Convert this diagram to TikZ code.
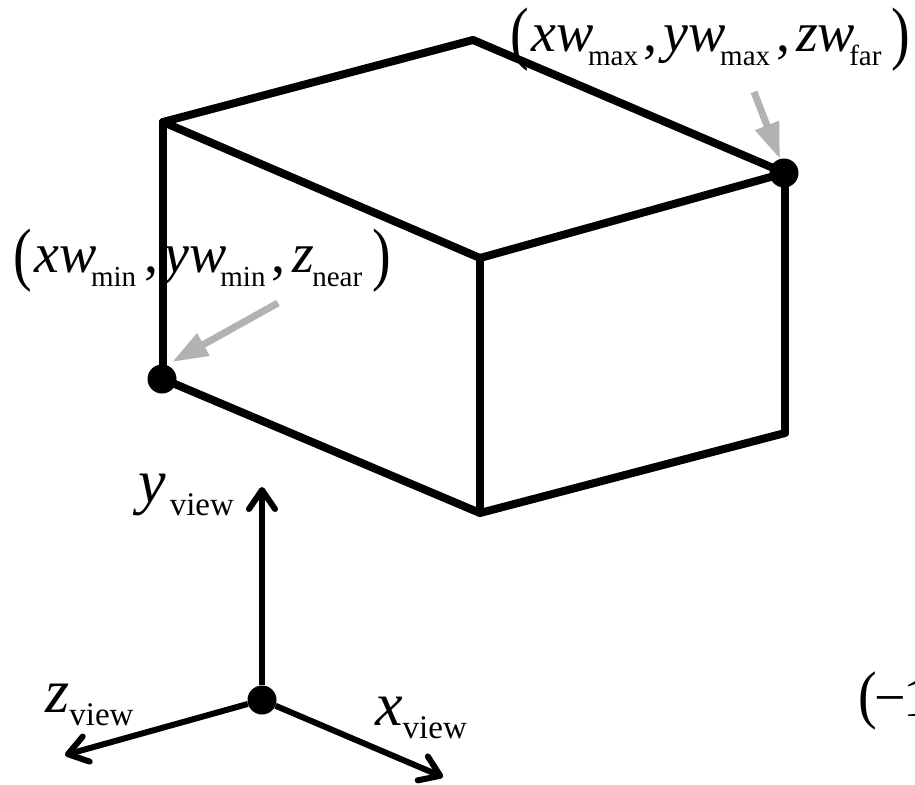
\documentclass[tikz,border=0pt]{standalone}
\usepackage{fontspec}
\setmainfont{Liberation Serif}
\usetikzlibrary{arrows.meta}
\definecolor{gry}{HTML}{B2B2B2}
\newcommand{\sublab}[3][-6pt]{\textit{#2}\kern#1\raisebox{-14pt}{\fontsize{29}{30}\selectfont #3}}
\newcommand{\viewlab}[2][0pt]{\textit{#2}\kern#1\raisebox{-13pt}{\fontsize{33}{36}\selectfont view}}
\newcommand{\lpar}{\raisebox{-5pt}{\scalebox{1}[1.25]{(}}}
\newcommand{\rpar}{\raisebox{-5pt}{\scalebox{1}[1.25]{)}}}
\tikzset{
  lab/.style={anchor=base west,inner sep=0pt,font=\fontsize{56}{60}\selectfont},
  vlab/.style={anchor=base west,inner sep=0pt,font=\fontsize{62}{66}\selectfont},
  edge/.style={draw=black,line width=8pt,line cap=round},
  axis/.style={draw=black,line width=6pt,-{Straight Barb[length=19pt,width=26pt,line width=6pt,round]}},
  pointer/.style={draw=gry,line width=7pt,-{Triangle[length=36pt,width=24pt]}},
  dot/.style={circle,fill=black,inner sep=0pt,minimum size=29pt},
}
\begin{document}
\begin{tikzpicture}[x=1pt,y=-1pt]
\useasboundingbox (0,0) rectangle (915,784);
% corners of the box
\coordinate (bl) at (163,122);
\coordinate (bt) at (473,40);
\coordinate (fl) at (163,379);
\coordinate (ft) at (480,258);
\coordinate (fb) at (480,513);
\coordinate (rt) at (785,173);
\coordinate (rb) at (785,433);
\node[lab] (minlab) at (13,272) {\lpar\kern3pt\sublab{xw}{min}\kern8pt,\kern6pt\sublab{yw}{min}\kern6pt,\kern7pt\sublab[-2pt]{z}{near}\kern10pt\rpar};
\node[lab] (maxlab) at (510,52) {\lpar\kern3pt\sublab{xw}{max}\kern6pt,\kern6pt\sublab{yw}{max}\kern6pt,\kern6pt\sublab{zw}{far}\kern10pt\rpar};
\node[vlab] (ylab) at (138,502) {\viewlab[4pt]{y}};
\node[vlab] (zlab) at (45,712) {\viewlab{z}};
\node[vlab] (xlab) at (375,725) {\viewlab{x}};
\node[lab] (cutlab) at (858,716) {\scalebox{1}[1.15]{(}\kern-2pt−\kern-3pt 1};
\foreach \a/\b in {bl/bt,bt/rt,bl/ft,ft/rt,bl/fl,ft/fb,rt/rb,fl/fb,fb/rb}{
  \draw[edge] (\a) -- (\b);}
\node[dot] (dmin) at (162,379) {};
\node[dot] (dmax) at (784,173) {};
\node[dot] (orig) at (262,700) {};
\coordinate (ytip) at (262,487);
\coordinate (ztip) at (65,755);
\coordinate (xtip) at (443,777);
\draw[axis] (orig) -- (ytip);
\draw[axis] (orig) -- (ztip);
\draw[axis] (orig) -- (xtip);
\coordinate (minfrom) at (278,303);
\coordinate (minto) at (172,362);
\coordinate (maxfrom) at (754,92);
\coordinate (maxto) at (780,159);
\draw[pointer] (minfrom) -- (minto);
\draw[pointer] (maxfrom) -- (maxto);
\end{tikzpicture}
\end{document}
